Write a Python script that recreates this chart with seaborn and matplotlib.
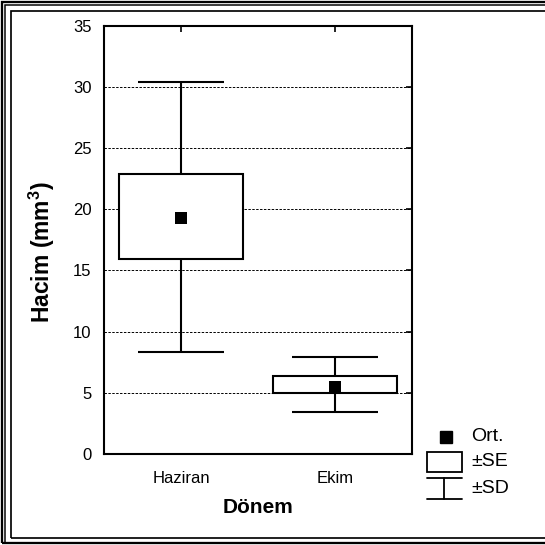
import numpy as np
import pandas as pd
import matplotlib
matplotlib.use("Agg")
import matplotlib.pyplot as plt
from matplotlib.patches import Rectangle
from matplotlib.lines import Line2D
import seaborn as sns

# ---- data ----
categories = ["Haziran", "Ekim"]
means = [19.25, 5.5]
se_low = [15.9, 5.0]
se_high = [22.85, 6.4]
sd_low = [8.3, 3.4]
sd_high = [30.4, 7.95]
yticks = [0, 5, 10, 15, 20, 25, 30, 35]
legend_labels = ["Ort.", "±SE", "±SD"]

sns.set_theme(style="white")
plt.rcParams["font.family"] = ["Liberation Sans", "DejaVu Sans"]
plt.rcParams["mathtext.fontset"] = "custom"
plt.rcParams["mathtext.rm"] = "Liberation Sans"
plt.rcParams["mathtext.bf"] = "Liberation Sans:bold"
plt.rcParams["text.color"] = "black"
plt.rcParams["axes.labelcolor"] = "black"

W = 545
fig = plt.figure(figsize=(5.45, 5.45), dpi=100)
fig.patch.set_facecolor("white")

def fx(px):
    return px / W

def fy(py):
    return 1 - py / W

ax = fig.add_axes([fx(104), fy(454), fx(412) - fx(104), fy(25.5) - fy(454)])
ax.set_facecolor("white")

pos = np.arange(len(categories))
df = pd.DataFrame({"pos": pos, "mean": means})

lw = 1.5
# whiskers (±SD)
ax.vlines(pos, sd_low, sd_high, color="black", lw=lw, zorder=2)
cap = 0.28
ax.hlines(sd_high, pos - cap, pos + cap, color="black", lw=lw, zorder=2)
ax.hlines(sd_low, pos - cap, pos + cap, color="black", lw=lw, zorder=2)
# boxes (±SE)
ax.bar(pos, np.array(se_high) - np.array(se_low), bottom=se_low, width=0.8,
       facecolor="white", edgecolor="black", linewidth=lw, zorder=3)
# means
sns.scatterplot(data=df, x="pos", y="mean", marker="s", s=80, color="black",
                edgecolor="black", linewidth=0, ax=ax, zorder=4, legend=False)

ax.set_xlim(-0.5, 1.5)
ax.set_ylim(0, 35)
ax.set_yticks(yticks)
ax.set_xticks(pos)
ax.set_xticklabels(categories)
ax.tick_params(axis="both", direction="in", length=4, width=1.2, color="black",
               labelsize=12, labelcolor="black")
ax.tick_params(axis="x", top=True, pad=12)
ax.tick_params(axis="y", right=True, pad=9)
ax.yaxis.grid(True, linestyle=(0, (2.5, 1.5)), color="black", linewidth=0.7)
ax.set_axisbelow(True)
for s in ax.spines.values():
    s.set_visible(True)
    s.set_color("black")
    s.set_linewidth(1.5)

ax.set_xlabel("Dönem", fontsize=15, fontweight="bold", labelpad=9, color="black")
ax.set_ylabel("Hacim (mm$^\\mathbf{3}$)", fontsize=16.5, fontweight="bold", color="black")
ax.yaxis.set_label_coords((57 - 104) / 308, (454 - 252) / 428.5)

# ---- manual legend ----
tf = fig.transFigure
fig.add_artist(Line2D([fx(446)], [fy(436.7)], marker="s", markersize=8,
                      color="black", transform=tf))
fig.add_artist(Rectangle((fx(426.7), fy(472.3)), fx(462) - fx(426.7), fy(451.7) - fy(472.3),
                         facecolor="white", edgecolor="black", lw=1.3, transform=tf))
fig.add_artist(Line2D([fx(426.7), fx(462)], [fy(478), fy(478)], color="black", lw=1.3, transform=tf))
fig.add_artist(Line2D([fx(426.7), fx(462)], [fy(499), fy(499)], color="black", lw=1.3, transform=tf))
fig.add_artist(Line2D([fx(444.3), fx(444.3)], [fy(478), fy(499)], color="black", lw=1.3, transform=tf))
for lab, yy in zip(legend_labels, [436.5, 461.5, 488.5]):
    fig.text(fx(471.5), fy(yy), lab, fontsize=14, va="center", ha="left", color="black")

# ---- frame ----
def frame(x0, y0, y1, lwpx):
    fig.add_artist(Rectangle((fx(x0), fy(y1)), fx(600) - fx(x0), fy(y0) - fy(y1),
                             fill=False, edgecolor="black", lw=lwpx * 0.72, transform=tf))

frame(1.9, 1.9, 542.8, 2.3)
frame(5.0, 5.0, 542.8, 1.5)
frame(10.9, 10.9, 538.3, 1.7)

fig.savefig("out.png", dpi=100, facecolor="white")
